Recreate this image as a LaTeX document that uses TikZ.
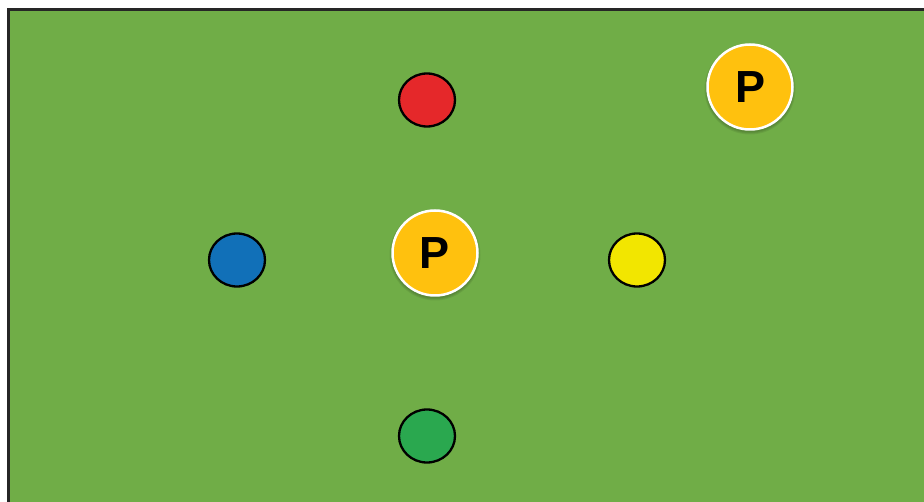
\documentclass[tikz,border=0pt]{standalone}
\usepackage{fontspec}
\setmainfont{Liberation Sans}
\usepackage{tikz}
\usetikzlibrary{shapes.geometric}

\definecolor{fieldgreen}{HTML}{70AD47}
\definecolor{coneRed}{HTML}{E5282A}
\definecolor{coneBlue}{HTML}{1170B8}
\definecolor{coneYellow}{HTML}{F2E600}
\definecolor{coneGreen}{HTML}{2AA84F}
\definecolor{playerGold}{HTML}{FFC10E}

\begin{document}
\begin{tikzpicture}[
    x=1pt, y=-1pt,
    field/.style={fill=fieldgreen, draw=black!85, line width=3pt},
    cone/.style={ellipse, draw=black, line width=2.3pt, minimum width=56pt, minimum height=53pt, inner sep=0pt},
    player/.style={circle, fill=playerGold, draw=white, line width=2.5pt, minimum size=85pt, inner sep=0pt,
        font=\fontsize{45}{45}\selectfont\bfseries},
    shade/.style={circle, fill=black, opacity=0.07, inner sep=0pt}
]
    \useasboundingbox (0,0) rectangle (924,502);
    \fill[white] (0,0) rectangle (924,502);
    \begin{scope}
        \clip (0,0) rectangle (924,502);
        \draw[field] (8,10) rectangle (940,520);
    \end{scope}

    % cones
    \node[cone, fill=coneRed] (red) at (427,100) {};
    \node[cone, fill=coneBlue] (blue) at (237,260) {};
    \node[cone, fill=coneYellow] (yellow) at (637,260) {};
    \node[cone, fill=coneGreen] (green) at (427,436) {};

    % players, soft shadow first
    \foreach \s in {87,89,91} {
        \node[shade, minimum size=\s pt] at (435,255) {};
        \node[shade, minimum size=\s pt] at (750,89) {};
    }
    \node[player] (pmid) at (435,253) {P};
    \node[player] (ptop) at (750,87) {P};
\end{tikzpicture}
\end{document}
